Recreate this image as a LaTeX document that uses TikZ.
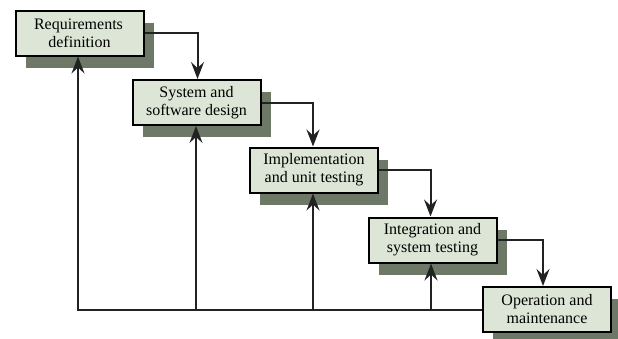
\documentclass[tikz,border=0pt]{standalone}
\usepackage{fontspec}
\setmainfont{Liberation Serif}
\usetikzlibrary{arrows.meta,shadows}
\definecolor{boxfill}{HTML}{DDE6D6}
\definecolor{shadowc}{HTML}{6E7867}
\definecolor{linec}{HTML}{222222}
\tikzset{
  phase/.style={draw=black, line width=2pt, fill=boxfill, minimum width=128pt, minimum height=45pt,
    inner sep=0pt, align=center, font=\fontsize{16pt}{18pt}\selectfont,
    general shadow={fill=shadowc, shadow xshift=10pt, shadow yshift=-12pt}},
  flow/.style={draw=linec, line width=2pt, -{Stealth[length=17pt,width=13pt,inset=6pt]}},
  back/.style={draw=linec, line width=2pt, -{Stealth[length=17pt,width=13pt,inset=6pt]}}
}
\begin{document}
\begin{tikzpicture}[x=1pt,y=-1pt]
\useasboundingbox (0,0) rectangle (618,338);
\clip (0,0) rectangle (618,338);
\node[phase] (b1) at (79.5,33) {\hspace{-2pt}Requirements\\definition};
\node[phase] (b2) at (196.5,102.5) {System and\\software design};
\node[phase] (b3) at (314,170) {Implementation\\and unit testing};
\node[phase] (b4) at (432.5,240) {Integration and\\system testing};
\node[phase] (b5) at (547,309.5) {Operation and\\maintenance};
\draw[flow] (b1.east) -| ([xshift=1pt]b2.north);
\draw[flow] (b2.east) -| ([xshift=-1pt]b3.north);
\draw[flow] (b3.east) -| ([xshift=-2pt]b4.north);
\draw[flow] (b4.east) -| ([xshift=-4pt]b5.north);
\draw[back] (b5.west) -| ([xshift=-1.5pt]b1.south);
\draw[back] ([xshift=-0.5pt]b2.south |- b5.west) -- ([xshift=-0.5pt]b2.south);
\draw[back] ([xshift=-1pt]b3.south |- b5.west) -- ([xshift=-1pt]b3.south);
\draw[back] ([xshift=-1.5pt]b4.south |- b5.west) -- ([xshift=-1.5pt]b4.south);
\end{tikzpicture}
\end{document}
